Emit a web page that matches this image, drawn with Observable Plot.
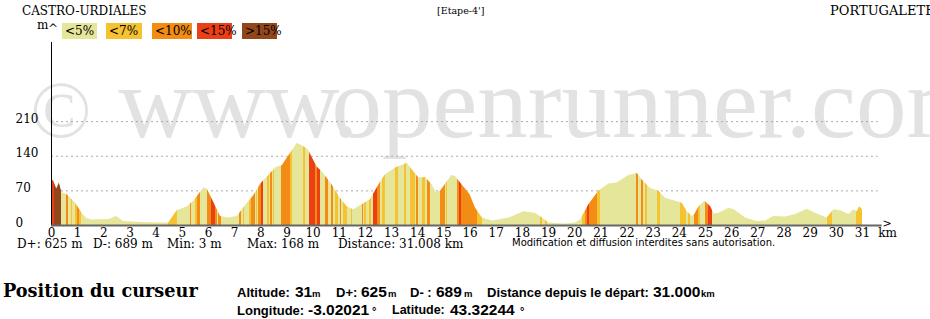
<!DOCTYPE html>
<html><head><meta charset="utf-8">
<script src="https://cdn.jsdelivr.net/npm/d3@7"></script>
<script src="https://cdn.jsdelivr.net/npm/@observablehq/plot@0.6"></script>
<style>
body{margin:0;background:#fff;}
#wrap{position:relative;width:930px;height:319px;overflow:hidden;font-family:"DejaVu Serif",serif;color:#000;}
#wrap svg{position:absolute;left:0;top:0;}
.abs{position:absolute;white-space:nowrap;}
.sans{font-family:"Liberation Sans",Arial,sans-serif;font-weight:bold;}
.box{position:absolute;}
</style></head><body><div id="wrap"></div>
<script>
// ---- profile (distance km, altitude m) ----
const distKm = [0,0.08,0.2,0.3,0.4,0.6,0.92,1.17,1.35,1.55,2.2,2.48,2.76,3.46,4.17,4.48,4.8,5.2,5.45,5.82,5.95,6.2,6.46,6.75,7.1,7.41,7.73,8.0,8.25,8.6,8.82,9.39,9.55,9.8,10.16,10.34,10.73,11.04,11.3,11.55,11.87,12.19,12.51,12.76,13.15,13.6,13.78,14.04,14.3,14.55,14.7,14.87,15.3,15.44,15.7,16.0,16.21,16.47,16.85,17.5,18.05,18.5,18.76,19.01,19.65,20.03,20.22,20.54,20.92,21.3,21.62,22.07,22.39,22.58,22.9,23.22,23.47,23.79,24.11,24.3,24.5,24.6,24.75,24.98,25.2,25.33,25.52,25.9,26.1,26.53,26.97,27.3,27.61,28.06,28.44,28.89,29.2,29.65,29.91,30.16,30.48,30.67,30.8,30.89,31.0];
const elevM  = [92,90,74,86,66,62,45,25,14,11,12,18,8,6,5,5,30,38,50,76,74,47,18,15,18,40,60,84,98,118,121,166,162,154,118,109,82,55,38,32,42,52,82,102,116,126,113,96,97,82,67,69,101,99,82,62,35,15,9,15,28,25,15,5,3,5,11,42,69,84,86,101,105,92,75,69,55,50,45,28,18,23,38,49,38,23,25,35,32,15,8,9,18,17,22,33,25,15,32,30,22,32,28,38,32];

// ---- slope classes (legend) ----
const slopeLabels = ["<5%","<7%","<10%","<15%",">15%"];
const slopeColors = ["#e6e69b","#f5c232","#f28c14","#eb3f15","#93461c"];

// ---- coloured slope stripes (km start, km end, class index); the rest is class 0 ----
const stripeStart = [0.00,0.10,0.58,0.78,0.92,0.99,1.08,4.47,5.30,5.50,5.58,5.98,6.12,6.27,6.40,7.18,7.32,7.56,7.66,7.84,7.92,8.03,8.24,8.38,8.48,8.79,9.13,9.64,9.88,10.09,10.15,10.47,10.72,10.85,11.05,11.17,11.46,11.87,11.98,12.17,12.30,12.45,12.64,13.15,13.51,13.72,13.94,14.17,14.36,14.87,15.10,15.50,15.59,15.69,16.27,18.70,18.88,20.28,20.41,20.50,20.56,20.86,22.35,22.55,22.71,23.15,24.04,24.35,24.59,24.75,24.99,25.12,29.65,30.76];
const stripeEnd   = [0.10,0.40,0.64,0.82,0.99,1.06,1.16,4.80,5.37,5.58,5.70,6.12,6.27,6.33,6.50,7.26,7.38,7.63,7.80,7.89,8.03,8.11,8.33,8.43,8.53,9.13,9.22,9.71,10.09,10.15,10.28,10.57,10.78,10.98,11.10,11.30,11.52,11.94,12.03,12.22,12.45,12.57,12.76,13.27,13.56,13.91,14.04,14.29,14.48,15.06,15.15,15.59,15.69,16.27,16.46,18.78,18.95,20.41,20.50,20.56,20.86,20.99,22.45,22.61,22.77,23.28,24.26,24.41,24.75,24.81,25.12,25.25,29.84,31.00];
const stripeClass = [3,4,2,1,1,2,1,1,2,1,2,2,3,2,2,2,1,1,2,1,2,3,1,2,1,2,1,1,3,2,3,2,2,1,2,1,1,2,1,1,3,2,1,1,1,1,2,1,2,2,1,2,3,2,1,1,1,1,2,3,2,1,2,2,1,1,1,1,2,1,2,3,1,1];

// ---- axes ----
const yTicks = [0,70,140,210];
const xTicks = [0,1,2,3,4,5,6,7,8,9,10,11,12,13,14,15,16,17,18,19,20,21,22,23,24,25,26,27,28,29,30,31];

// ---- texts ----
const startName = "CASTRO-URDIALES", endName = "PORTUGALETE", stageName = "[Etape-4']";
const summaryTexts = ["D+: 625 m","D-: 689 m","Min: 3 m","Max: 168 m","Distance: 31.008 km"];
const notice = "Modification et diffusion interdites sans autorisation.";
const cursorLabels = ["Altitude:","D+:","D- :","Distance depuis le départ:","Longitude:","Latitude:"];
const cursorValues = ["31","625","689","31.000","-3.02021","43.32244"];
const cursorUnits  = ["m","m","m","km","°","°"];

const profile = distKm.map((d,i)=>({km:d, elev:elevM[i]}));

const gradientDefs = () => {
  const defs = d3.create("svg:defs");
  const lg = defs.append("linearGradient").attr("id","slopeGrad")
    .attr("x1",0).attr("x2",1).attr("y1",0).attr("y2",0);
  const k0 = distKm[0], k1 = distKm[distKm.length-1], span = k1-k0;
  const add = (a,b,c) => {
    lg.append("stop").attr("offset",(a-k0)/span).attr("stop-color",slopeColors[c]);
    lg.append("stop").attr("offset",(b-k0)/span).attr("stop-color",slopeColors[c]);
  };
  let pos = k0;
  stripeStart.forEach((s,i)=>{ if (s>pos) add(pos,s,0); add(s,stripeEnd[i],stripeClass[i]); pos = stripeEnd[i]; });
  if (pos < k1) add(pos,k1,0);
  return defs.node();
};

const wm = "#e2e2e2";
const chart = Plot.plot({
  width: 930, height: 250,
  marginLeft: 51, marginRight: 68, marginTop: 40, marginBottom: 25,
  x: {domain:[0,31], axis:null},
  y: {domain:[0,374], axis:null},
  style: {background:"transparent", fontFamily:"DejaVu Serif", overflow:"visible", color:"#000"},
  marks: [
    gradientDefs,
    Plot.text(["©"], {frameAnchor:"top-left", dx:-21, dy:96, lineAnchor:"bottom", textAnchor:"start", fontSize:80, fontFamily:"Liberation Serif", fill:wm}),
    Plot.text(["www."], {frameAnchor:"top-left", dx:67, dy:96, lineAnchor:"bottom", textAnchor:"start", fontSize:102, fontFamily:"Liberation Serif", fill:wm, textLength:206, lengthAdjust:"spacingAndGlyphs"}),
    Plot.text(["openrunner.com"], {frameAnchor:"top-left", dx:280, dy:96, lineAnchor:"bottom", textAnchor:"start", fontSize:101, fontFamily:"Liberation Serif", fill:wm}),
    Plot.ruleY(yTicks.filter(d=>d>0), {x1:0, x2:31.6, stroke:"#aaa", strokeDasharray:"2,3"}),
    Plot.areaY(profile, {x:"km", y:"elev", fill:"url(#slopeGrad)"}),
    Plot.ruleX([0], {y1:0, y2:370, stroke:"#000"}),
    Plot.ruleY([0], {x1:0, x2:31.75, stroke:"#666", strokeWidth:2}),
    Plot.text(yTicks, {y:d=>d, text:d=>String(d), frameAnchor:"left", dx:-36, textAnchor:"start", lineAnchor:"bottom", dy:1, fontSize:12}),
    Plot.text(xTicks, {x:d=>d, y:0, text:d=>String(d), lineAnchor:"bottom", dy:11.5, fontSize:12}),
    Plot.text(["km"], {x:31.96, y:0, lineAnchor:"bottom", dy:11.5, fontSize:12}),
    Plot.text([">"], {x:31.94, y:0, lineAnchor:"bottom", dy:1.5, fontSize:11})
  ]
});
const wrap = document.getElementById("wrap");
wrap.appendChild(chart);

function put(txt, left, base, size, cls) {
  const s = document.createElement("div");
  s.className = "abs " + (cls||"");
  s.textContent = txt;
  s.style.left = left + "px";
  s.style.top = (base - 0.846*size) + "px";
  s.style.fontSize = size + "px";
  s.style.lineHeight = size + "px";
  wrap.appendChild(s);
  return s;
}
function box(left, top, w, h, color) {
  const b = document.createElement("div");
  b.className = "box";
  Object.assign(b.style, {left:left+"px", top:top+"px", width:w+"px", height:h+"px", background:color});
  wrap.appendChild(b);
}

// header
put(startName, 22, 15, 12);
put(stageName, 437, 14, 9.5);
put(endName, 830, 15, 13);
put("m", 37, 29, 12);
put("^", 48, 33, 12);

// legend
const legLeft = [62,106,152,197,242], legW = [35,36,40,35,35];
slopeLabels.forEach((t,i)=>{ box(legLeft[i], 23, legW[i], 16, slopeColors[i]); put(t, legLeft[i]+3, 35, 12); });

// summary line
const sumLeft = [17,93,167,247,338];
summaryTexts.forEach((t,i)=>put(t, sumLeft[i], 248, 12));
put(notice, 512, 246.5, 10, "").style.fontFamily = "'DejaVu Sans',sans-serif";

// cursor panel
const pos = put("Position du curseur", 3, 297, 17.7);
pos.style.fontWeight = "bold";
const labLeft = [237,336,410,487,237,392], valLeft = [295,361,436,653,308,450], unitLeft = [312,388,464,701,372,520];
const labSize = [13,13,13,13,13,12.5];
const base = [297,297,297,297,315,315];
cursorLabels.forEach((t,i)=>{
  put(t, labLeft[i], base[i], labSize[i], "sans");
  put(cursorValues[i], valLeft[i], base[i], 15.5, "sans");
  put(cursorUnits[i], unitLeft[i], base[i], cursorUnits[i]==="°" ? 11 : 9.5, "sans");
});
</script></body></html>
